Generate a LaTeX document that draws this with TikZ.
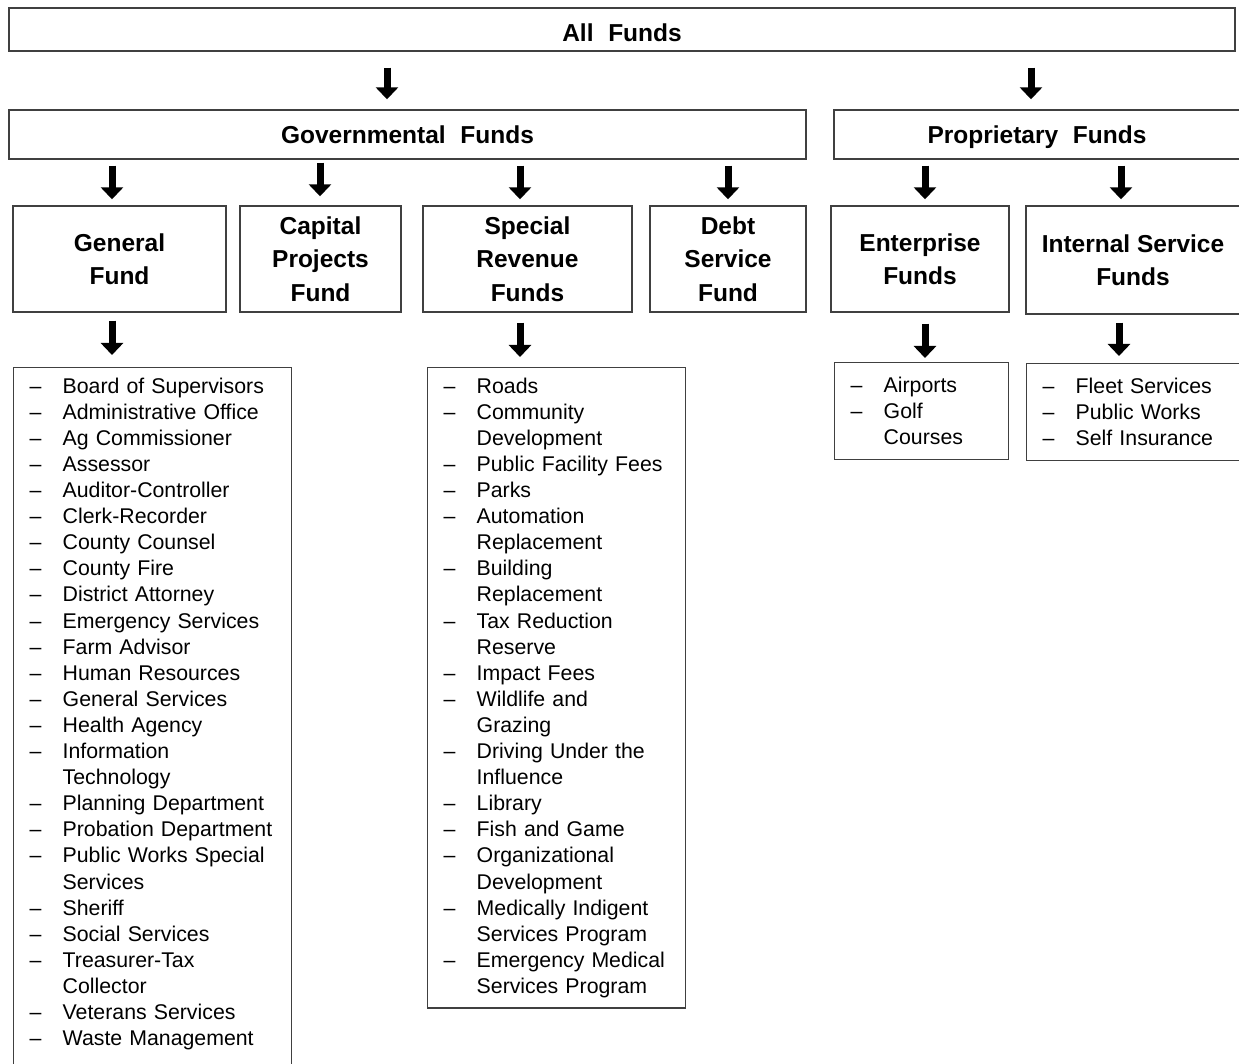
\documentclass[tikz,border=0pt]{standalone}
\usepackage{fontspec}
\setmainfont{Liberation Sans}
\usetikzlibrary{arrows.meta}
\newcommand{\itm}{\makebox[16.5pt][l]{--}}
\newcommand{\cnt}{\hspace*{16.5pt}}
\tikzset{
  fundhead/.style={draw=black!75, line width=0.7pt, inner sep=0pt,
    font=\bfseries\fontsize{12.25}{16.75}\selectfont},
  fundbox/.style={fundhead, align=center},
  listbox/.style={draw=black!75, line width=0.7pt, anchor=north west, align=left,
    inner xsep=8pt, inner ysep=5pt, font=\fontsize{10.65}{13.05}\selectfont},
  down/.style={line width=3.5pt, -{Triangle[width=11pt,length=6pt]},
    shorten <=3pt, shorten >=3pt}
}

\begin{document}
\begin{tikzpicture}[x=0.5pt, y=-0.5pt]
    \useasboundingbox (0,0) rectangle (1239,1064);
    \clip (0,0) rectangle (1239,1064);
    \fill[white] (0,0) rectangle (1239,1064);

    % Nodes
    \node[fundhead, minimum width=613pt, minimum height=21.5pt, text height=12pt, text depth=0pt] (allf) at (622,29.5) {All\hspace{0.6em}Funds};
    \node[fundhead, minimum width=398.5pt, minimum height=24.5pt, text height=11pt, text depth=2pt] (gov) at (407.5,134.5) {Governmental\hspace{0.6em}Funds};
    \node[fundhead, minimum width=203pt, minimum height=24.5pt, text height=11pt, text depth=2pt] (prop) at (1037,134.5) {Proprietary\hspace{0.6em}Funds};

    \node[fundbox, minimum width=106.5pt, minimum height=53pt] (gen) at (119.5,259) {General\\Fund};
    \node[fundbox, minimum width=80.5pt, minimum height=53pt] (cap) at (320.5,259) {Capital\\Projects\\Fund};
    \node[fundbox, minimum width=104.5pt, minimum height=53pt] (spec) at (527.5,259) {Special\\Revenue\\Funds};
    \node[fundbox, minimum width=78pt, minimum height=53pt] (debt) at (728,259) {Debt\\Service\\Fund};
    \node[fundbox, minimum width=89pt, minimum height=53pt] (ent) at (920,259) {Enterprise\\Funds};
    \node[fundbox, minimum width=107pt, minimum height=54pt] (isf) at (1133,260) {Internal Service\\Funds};

    % Lists
    \node[listbox, text width=123pt, text depth=341pt] (genl) at (13,367) {
      \itm Board of Supervisors\\
      \itm Administrative Office\\
      \itm Ag Commissioner\\
      \itm Assessor\\
      \itm Auditor-Controller\\
      \itm Clerk-Recorder\\
      \itm County Counsel\\
      \itm County Fire\\
      \itm District Attorney\\
      \itm Emergency Services\\
      \itm Farm Advisor\\
      \itm Human Resources\\
      \itm General Services\\
      \itm Health Agency\\
      \itm Information\\
      \cnt Technology\\
      \itm Planning Department\\
      \itm Probation Department\\
      \itm Public Works Special\\
      \cnt Services\\
      \itm Sheriff\\
      \itm Social Services\\
      \itm Treasurer-Tax\\
      \cnt Collector\\
      \itm Veterans Services\\
      \itm Waste Management};
    \node[listbox, text width=113pt] (specl) at (427,367) {
      \itm Roads\\
      \itm Community\\
      \cnt Development\\
      \itm Public Facility Fees\\
      \itm Parks\\
      \itm Automation\\
      \cnt Replacement\\
      \itm Building\\
      \cnt Replacement\\
      \itm Tax Reduction\\
      \cnt Reserve\\
      \itm Impact Fees\\
      \itm Wildlife and\\
      \cnt Grazing\\
      \itm Driving Under the\\
      \cnt Influence\\
      \itm Library\\
      \itm Fish and Game\\
      \itm Organizational\\
      \cnt Development\\
      \itm Medically Indigent\\
      \cnt Services Program\\
      \itm Emergency Medical\\
      \cnt Services Program};
    \node[listbox, text width=71pt, minimum height=48.5pt] (entl) at (834,362) {
      \itm Airports\\
      \itm Golf\\
      \cnt Courses};
    \node[listbox, text width=91pt, minimum height=48.5pt] (isfl) at (1026,363) {
      \itm Fleet Services\\
      \itm Public Works\\
      \itm Self Insurance};

    % Arrows from the top
    \draw[down, shorten <=8pt, shorten >=5pt] (allf.south -| 387,0) -- (gov.north -| 387,0);
    \draw[down, shorten <=8pt, shorten >=5pt] (allf.south -| 1031,0) -- (prop.north -| 1031,0);

    % Arrows to the fund types
    \draw[down] (gov.south -| 112,0) -- (gen.north -| 112,0);
    \draw[down, shorten <=1.5pt, shorten >=4.5pt] (gov.south -| 320,0) -- (cap.north -| 320,0);
    \draw[down] (gov.south -| 520,0) -- (spec.north -| 520,0);
    \draw[down] (gov.south -| 728,0) -- (debt.north -| 728,0);
    \draw[down] (prop.south -| 925,0) -- (ent.north -| 925,0);
    \draw[down] (prop.south -| 1121,0) -- (isf.north -| 1121,0);

    % Arrows to the lists
    \draw[down, shorten <=4pt, shorten >=6pt] (gen.south -| 112,0) -- (genl.north -| 112,0);
    \draw[down, shorten <=5pt, shorten >=5pt] (spec.south -| 520,0) -- (specl.north -| 520,0);
    \draw[down, shorten <=5.5pt, shorten >=2pt] (ent.south -| 925,0) -- (entl.north -| 925,0);
    \draw[down, shorten <=4pt, shorten >=3.5pt] (isf.south -| 1119,0) -- (isfl.north -| 1119,0);
\end{tikzpicture}
\end{document}
